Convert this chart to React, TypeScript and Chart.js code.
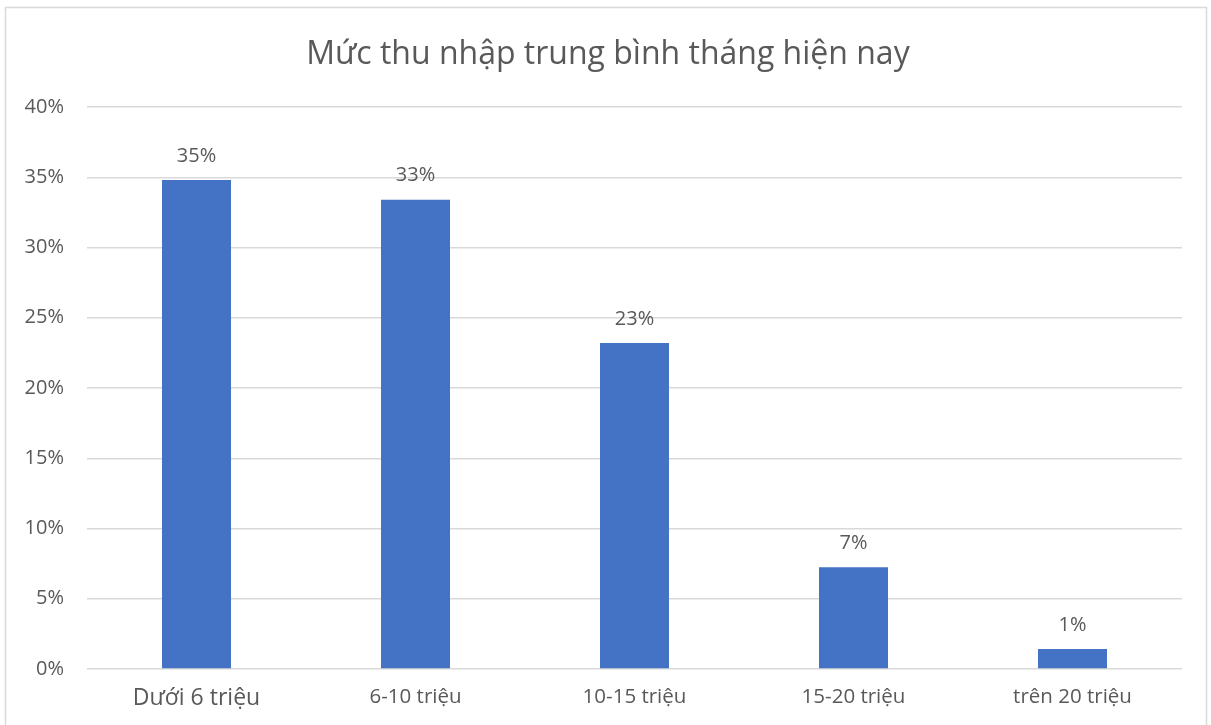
import React, { useEffect, useRef } from "react";
import { Chart, registerables } from "chart.js";

Chart.register(...registerables);

const TITLE = "Mức thu nhập trung bình tháng hiện nay";
const categories = ["Dưới 6 triệu", "6-10 triệu", "10-15 triệu", "15-20 triệu", "trên 20 triệu"];
const values = [34.8, 33.4, 23.2, 7.25, 1.42];
const dataLabels = ["35%", "33%", "23%", "7%", "1%"];
const yTicks = [0, 5, 10, 15, 20, 25, 30, 35, 40];

const FONT = "'Open Sans', 'Noto Sans', sans-serif";
const TEXT = "#595959";

const decorPlugin = {
  id: "decor",
  beforeDraw(chart: any) {
    const ctx = chart.ctx;
    ctx.save();
    ctx.fillStyle = "#ffffff";
    ctx.fillRect(0, 0, chart.width, chart.height);
    ctx.strokeStyle = "#d9d9d9";
    ctx.lineWidth = 1.5;
    ctx.strokeRect(5.5, 7.5, 1201, 740);
    ctx.fillStyle = TEXT;
    ctx.font = `32px ${FONT}`;
    ctx.textAlign = "center";
    ctx.textBaseline = "middle";
    ctx.fillText(TITLE, 608, 55);
    ctx.restore();
  },
  afterDatasetsDraw(chart: any) {
    const ctx = chart.ctx;
    const meta = chart.getDatasetMeta(0);
    ctx.save();
    ctx.fillStyle = TEXT;
    ctx.font = `20px ${FONT}`;
    ctx.textAlign = "center";
    ctx.textBaseline = "middle";
    meta.data.forEach((bar: any, i: number) => {
      ctx.fillText(dataLabels[i], bar.x, bar.y - 24);
    });
    ctx.restore();
  },
};

export default function App() {
  const ref = useRef<HTMLCanvasElement>(null);
  useEffect(() => {
    document.body.style.margin = "0";
    const chart = new Chart(ref.current!, {
      type: "bar",
      data: {
        labels: categories,
        datasets: [
          {
            data: values,
            backgroundColor: "#4472c4",
            barPercentage: 0.63,
            categoryPercentage: 0.5,
          },
        ],
      },
      options: {
        animation: false,
        responsive: false,
        layout: { padding: { top: 107, right: 29, left: 0, bottom: 0 } },
        plugins: { legend: { display: false }, tooltip: { enabled: false }, title: { display: false } },
        scales: {
          x: {
            grid: { display: false, drawTicks: false },
            border: { display: false },
            ticks: {
              color: TEXT,
              padding: 16,
              font: (c: any) => ({ family: FONT, size: c.index === 0 ? 23 : 20.5 }),
            },
            afterFit: (s: any) => {
              s.height = 56;
            },
          },
          y: {
            min: 0,
            max: 40,
            afterBuildTicks: (s: any) => {
              s.ticks = yTicks.map((v) => ({ value: v }));
            },
            grid: { color: "#d9d9d9", lineWidth: 1.5, drawTicks: false },
            border: { display: false },
            ticks: {
              color: TEXT,
              padding: 23,
              font: { family: FONT, size: 20 },
              callback: (v: any) => `${v}%`,
            },
            afterFit: (s: any) => {
              s.width = 87;
            },
          },
        },
      },
      plugins: [decorPlugin],
    });
    return () => chart.destroy();
  }, []);
  return (
    <div style={{ position: "absolute", left: 0, top: 0, width: 1211, height: 725 }}>
      <canvas ref={ref} width={1211} height={725} />
    </div>
  );
}
